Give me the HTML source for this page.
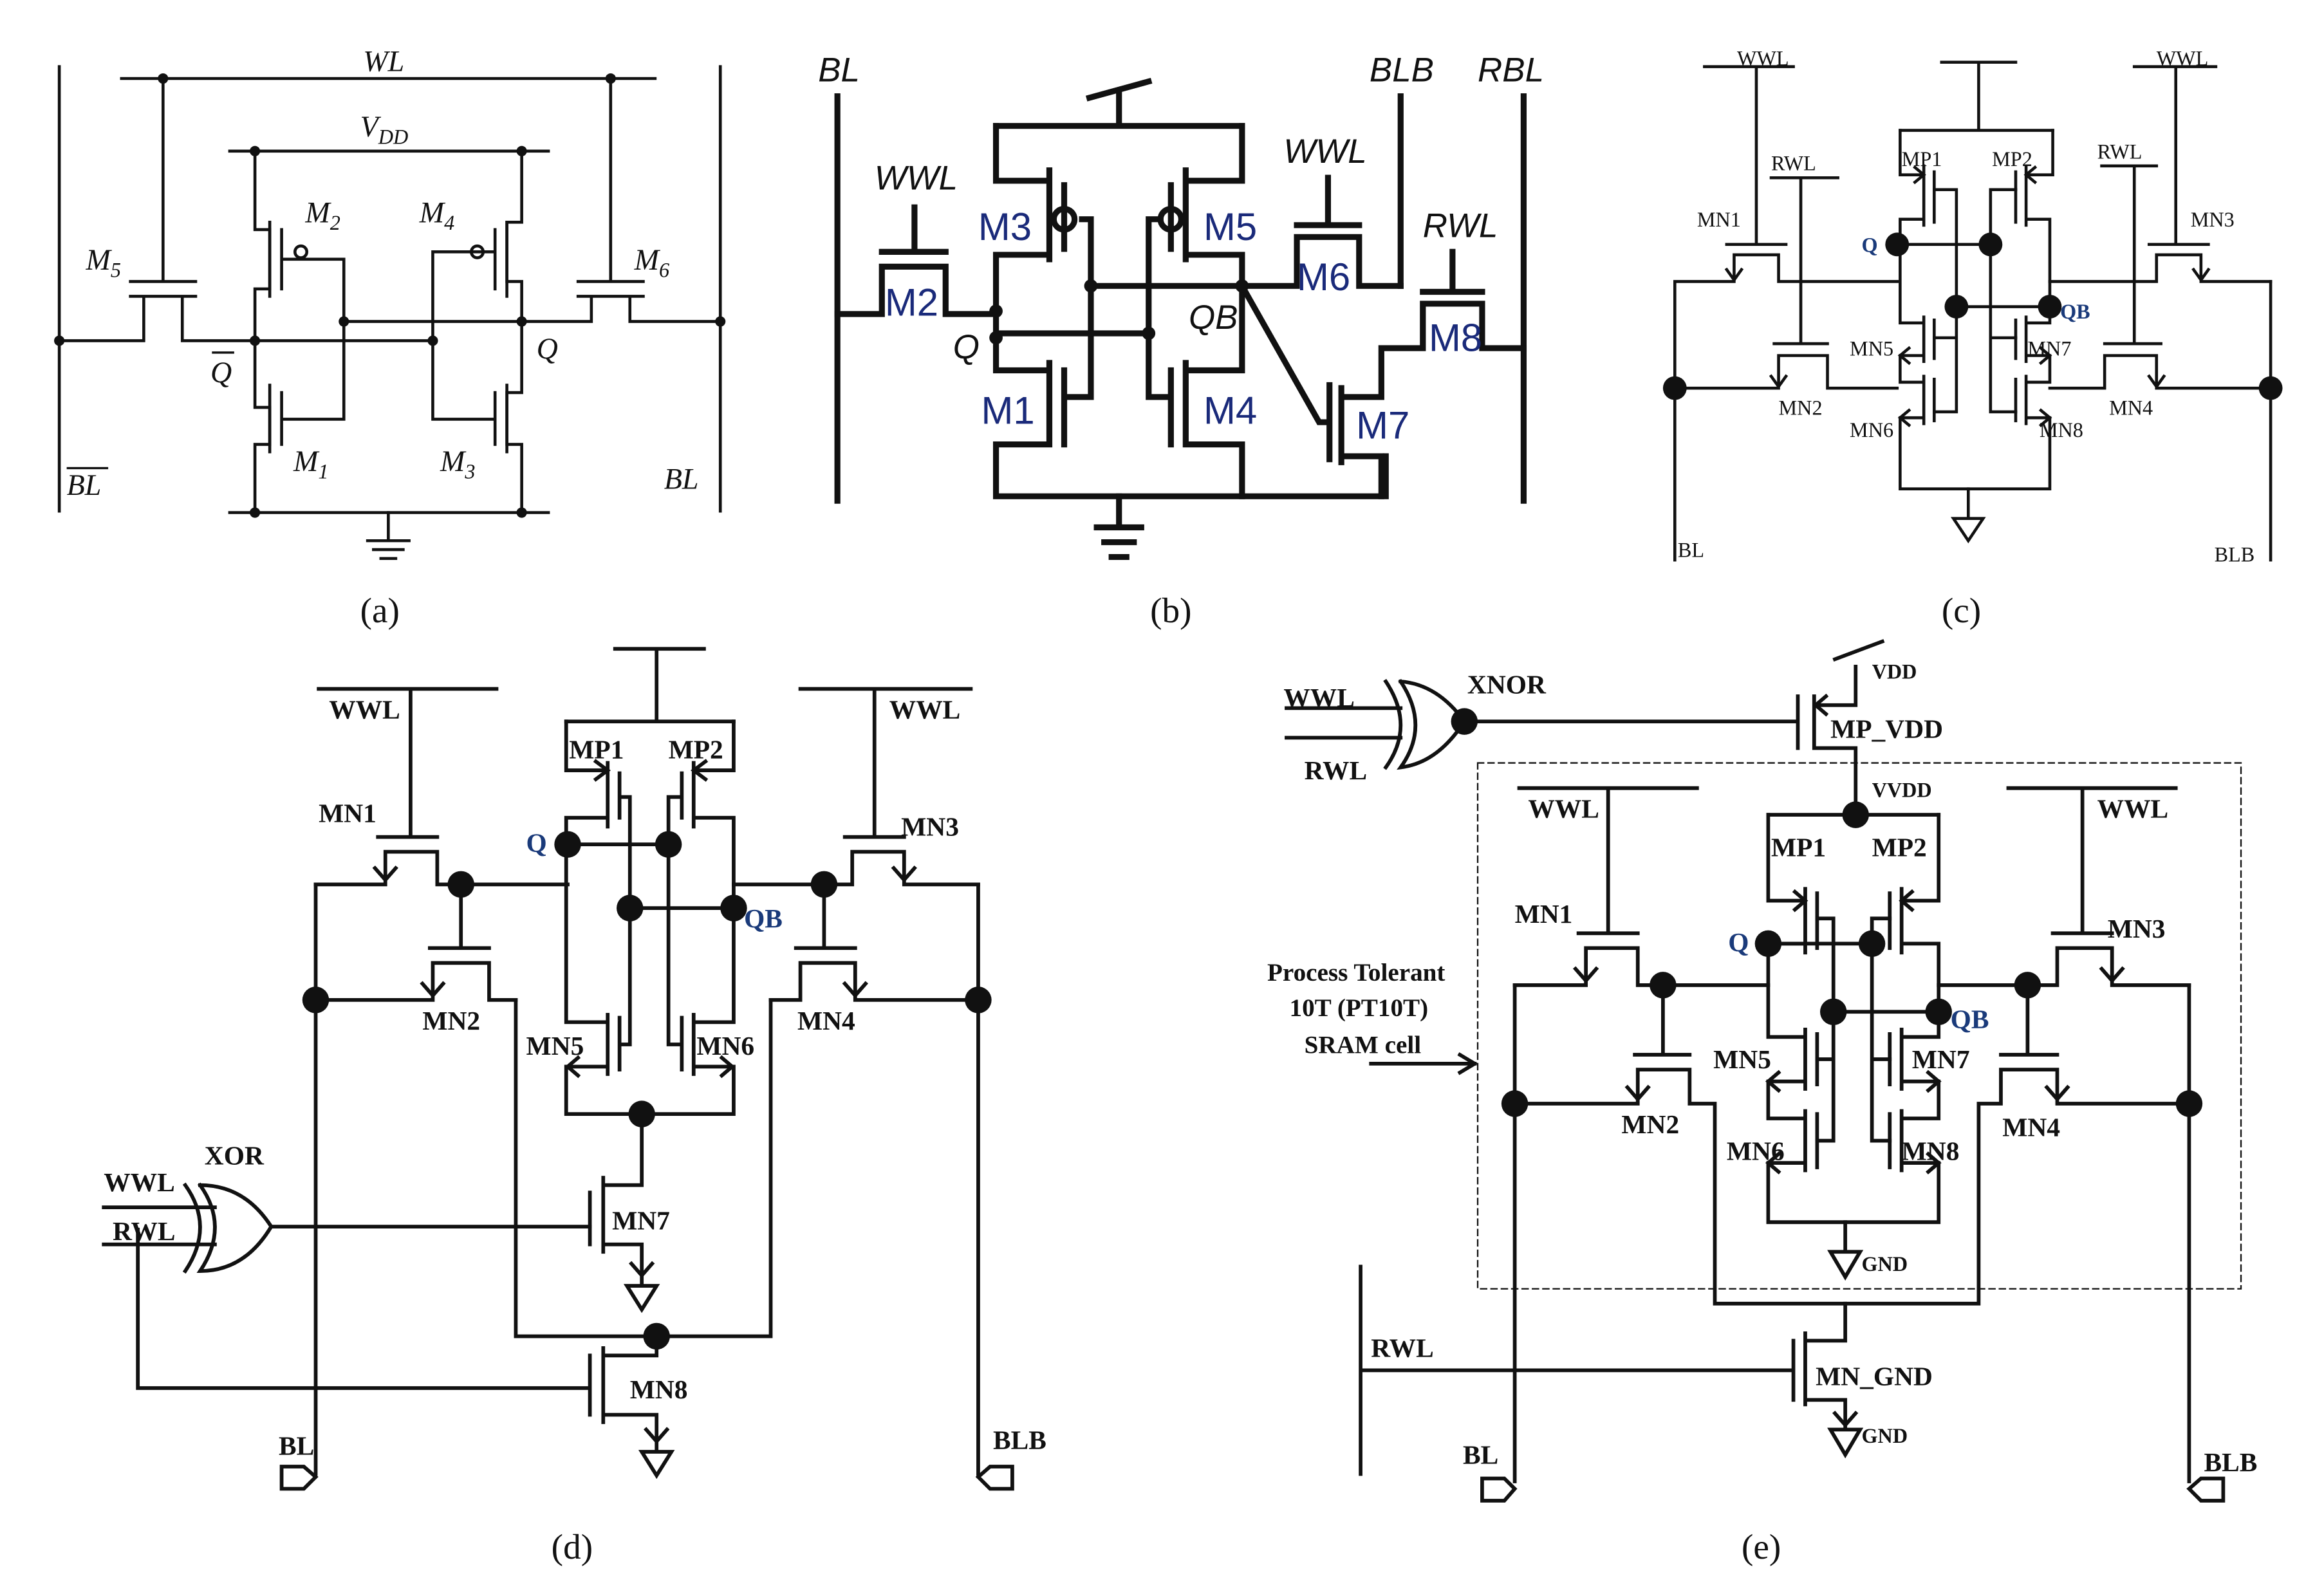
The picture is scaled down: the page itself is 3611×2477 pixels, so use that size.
<!DOCTYPE html>
<html><head><meta charset="utf-8"><style>html,body{margin:0;padding:0;background:#fff}svg{display:block}</style></head><body>
<svg width="3611" height="2477" viewBox="0 0 1568 1076" preserveAspectRatio="none" xmlns="http://www.w3.org/2000/svg">
<rect width="1568" height="1076" fill="#fff"/>
<g fill="none" stroke="#111" stroke-linecap="square">
<!-- (a) -->
<g stroke-width="2">
<path d="M40 45V345M486 45V345M82 53H442M155 102H370M155 346H370"/>
<path d="M110 53V190M88 190H132M88 200H132M40 230H97V200M123 200V230H172"/>
<path d="M412 53V190M390 190H434M390 200H434M486 217H425V200M399 200V217H352"/>
<path d="M172 102V155H182V195H172V230V275H182V300H172V346"/>
<path d="M182 150V200M182 260V305M190 155V195M190 265V300M190 175H232V230M190 283H232V230"/>
<path d="M352 102V150H342V190H352V217V265H342V300H352V346"/>
<path d="M342 150V200M342 260V305M334 155V195M334 265V300M334 170H292V230M334 283H292V230M172 230H292M232 217H352"/>
<circle cx="203" cy="170" r="4"/><circle cx="322" cy="170" r="4"/>
<path d="M262 346V365M248 365H276M252 371H272M257 377H267"/>
</g>
<g fill="#111" stroke="none"><circle cx="110" cy="53" r="3.5"/><circle cx="412" cy="53" r="3.5"/><circle cx="172" cy="102" r="3.5"/><circle cx="352" cy="102" r="3.5"/><circle cx="40" cy="230" r="3.5"/><circle cx="486" cy="217" r="3.5"/><circle cx="172" cy="230" r="3.5"/><circle cx="232" cy="217" r="3.5"/><circle cx="292" cy="230" r="3.5"/><circle cx="352" cy="217" r="3.5"/><circle cx="172" cy="346" r="3.5"/><circle cx="352" cy="346" r="3.5"/></g>
<!-- (b) -->
<g stroke-width="4">
<path d="M565 65V338M945 65V193M1028 65V338"/>
<path d="M735 66L775 55M755 62V85M672 85H838"/>
<path d="M672 85V122H708M708 115V175M708 172H672V250H708M708 245V300M708 300H672V335H935V308"/>
<path d="M718 125V168M730 148H736V268H718M718 250V300"/>
<circle cx="718" cy="148" r="7"/>
<path d="M838 85V122H800M800 115V175M800 172H838V250H800M800 245V300M800 300H838V335"/>
<path d="M790 125V168M783 148H775V268H790M790 250V300"/>
<circle cx="790" cy="148" r="7"/>
<path d="M672 225H775M736 193H838"/>
<path d="M565 212H595V180H638V212H672M595 170H638M617 140V170"/>
<path d="M838 193H875V160H917V193H945M875 152H917M896 120V152"/>
<path d="M838 193L890 285H897M897 260V310M905 262V312M905 268H932V235H960V205H1000V235H1028M960 197H1000M980 170V197M905 308H932V335"/>
<path d="M755 335V355M740 356H770M745 366H765M750 376H760"/>
</g>
<g fill="#111" stroke="none"><circle cx="672" cy="210" r="4.5"/><circle cx="672" cy="228" r="4.5"/><circle cx="736" cy="193" r="4.5"/><circle cx="775" cy="225" r="4.5"/><circle cx="838" cy="193" r="4.5"/></g>
<!-- (c) -->
<g stroke-width="2">
<path d="M1130 190V378M1532 190V378M1150 45H1210M1185 45V165M1165 165H1205M1170 172H1200M1130 190H1170V172M1200 172V190H1280"/>
<path d="M1195 120H1240M1215 120V232M1197 232H1233M1130 262H1200V240H1233V262H1280"/>
<path d="M1440 45H1495M1468 45V165M1450 165H1490M1455 172H1485M1532 190H1485V172M1455 172V190H1383"/>
<path d="M1418 112H1455M1440 112V232M1420 232H1458M1532 262H1455V240H1420V262H1383"/>
<path d="M1310 42H1360M1335 42V88M1282 88H1385"/>
<path d="M1282 88V118H1298M1298 112V152M1298 148H1282V218H1298M1298 214V244M1298 240H1282V258H1298M1298 254V286M1298 282H1282V330H1383V282H1367M1367 254V286M1367 258H1383V240H1367M1367 214V244M1367 218H1383V148H1367M1367 112V152M1367 118H1385V88"/>
<path d="M1305 116V150M1305 216V242M1305 256V284M1360 116V150M1360 216V242M1360 256V284"/>
<path d="M1305 128H1320V278H1305M1305 228H1320M1360 128H1343V278H1360M1360 228H1343M1280 165H1343M1320 207H1383"/>
<path d="M1328 330V350M1318 350H1338L1328 365Z"/>
<path d="M1165 182L1170 189L1175 182M1195 254L1200 261L1205 254M1480 182L1485 189L1490 182M1450 254L1455 261L1460 254M1292 113L1298 118L1292 123M1373 113L1367 118L1373 123M1288 235L1282 240L1288 245M1288 277L1282 282L1288 287M1377 235L1383 240L1377 245M1377 277L1383 282L1377 287"/>
</g>
<g fill="#111" stroke="none"><circle cx="1280" cy="165" r="8"/><circle cx="1343" cy="165" r="8"/><circle cx="1320" cy="207" r="8"/><circle cx="1383" cy="207" r="8"/><circle cx="1130" cy="262" r="8"/><circle cx="1532" cy="262" r="8"/></g>
<!-- (d) -->
<g stroke-width="2.5">
<path d="M415 438H475M443 438V487M382 487H495"/>
<path d="M382 487V520H410M410 515V558M410 552H382V690H410M410 685V725M410 720H382V752H495V720H468M468 685V725M468 690H495V552H468M468 515V558M468 520H495V487"/>
<path d="M418 522V552M418 687V722M460 522V552M460 687V722M418 538H425V705H418M460 538H451V705H460M383 570H451M425 613H495"/>
<path d="M433 752V800H407M407 795V845M398 805V840M407 840H433V868M423 868H443L433 884Z"/>
<path d="M183 828H398M93 830V937H398M407 910V960M398 915V955M407 915H443V902M407 955H443V980M433 980H453L443 996Z"/>
<path d="M348 902H520M348 675V902M520 675V902"/>
<path d="M215 465H335M277 465V565M255 565H295M260 575H295M213 597H260V575M295 575V597H383M311 597V640M290 640H330M292 650H330M213 675H292V650M330 650V675H348"/>
<path d="M540 465H655M590 465V565M570 565H610M575 575H610M495 597H575V575M610 575V597H660M556 597V640M537 640H577M540 650H577M660 675H577V650M540 650V675H520"/>
<path d="M213 597V995M660 597V995M190 990H205L213 997L205 1005H190ZM683 990H668L660 997L668 1005H683Z"/>
<path d="M70 815H145M70 840H145M135 800Q165 800 183 828Q165 858 135 858Q155 828 135 800M125 800Q145 828 125 858"/>
<path d="M253 586L260 594L267 586M285 664L292 672L299 664M603 586L610 594L617 586M570 664L577 672L584 664M402 514L410 520L402 526M476 514L468 520L476 526M390 714L383 720L390 726M487 714L494 720L487 726M426 853L433 861L440 853M436 965L443 973L450 965"/>
</g>
<g fill="#111" stroke="none"><circle cx="383" cy="570" r="9"/><circle cx="451" cy="570" r="9"/><circle cx="425" cy="613" r="9"/><circle cx="495" cy="613" r="9"/><circle cx="311" cy="597" r="9"/><circle cx="556" cy="597" r="9"/><circle cx="213" cy="675" r="9"/><circle cx="660" cy="675" r="9"/><circle cx="433" cy="752" r="9"/><circle cx="443" cy="902" r="9"/></g>
<!-- (e) -->
<g stroke-width="2.5">
<rect x="997" y="515" width="515" height="355" stroke-width="1" stroke-dasharray="4 3"/>
<path d="M868 478H945M868 498H945M945 460Q970 462 988 487Q970 515 945 518Q965 490 945 460M935 460Q955 490 935 518"/>
<path d="M996 487H1213M1213 470V505M1224 470V505M1224 476H1252V450M1238 445L1270 433M1224 505H1252V545M1193 550H1308"/>
<path d="M1193 550V608H1218M1218 600V643M1218 637H1193V700H1218M1218 695V735M1218 730H1193V755H1218M1218 750V790M1218 785H1193V825H1308V785H1283M1283 750V790M1283 755H1308V730H1283M1283 695V735M1283 700H1308V637H1283M1283 600V643M1283 608H1308V550"/>
<path d="M1226 603V640M1226 698V732M1226 752V788M1275 603V640M1275 698V732M1275 752V788"/>
<path d="M1226 620H1237V770H1226M1226 715H1237M1275 620H1263V770H1275M1275 715H1263M1193 637H1263M1237 683H1308"/>
<path d="M1245 825V845M1235 845H1255L1245 862Z"/>
<path d="M1025 532H1145M1085 532V630M1065 630H1105M1070 640H1105M1022 665H1070V640M1105 640V665H1193M1122 665V712M1103 712H1140M1105 722H1140M1022 745H1105V722M1140 722V745H1157V880H1335V745H1350V722H1388V745H1477"/>
<path d="M1355 532H1468M1405 532V630M1385 630H1425M1388 640H1425M1308 665H1388V640M1425 640V665H1477M1368 665V712M1350 712H1388"/>
<path d="M1245 880V905H1218M1218 900V948M1210 905V945M918 855V995M918 925H1210M1218 945H1245V965M1235 965H1255L1245 982Z"/>
<path d="M1022 665V1000M1477 665V1000M1000 998H1015L1022 1005L1015 1013H1000ZM1500 998H1485L1477 1005L1485 1013H1500Z"/>
<path d="M925 718H995M985 712L995 718L985 724"/>
<path d="M1063 654L1070 662L1077 654M1098 734L1105 742L1112 734M1418 654L1425 662L1432 654M1381 734L1388 742L1395 734M1211 602L1218 608L1211 614M1290 602L1283 608L1290 614M1200 724L1193 730L1200 736M1200 779L1193 785L1200 791M1301 724L1308 730L1301 736M1301 779L1308 785L1301 791M1232 470L1225 476L1232 482M1238 954L1245 962L1252 954"/>
</g>
<g fill="#111" stroke="none"><circle cx="988" cy="487" r="9"/><circle cx="1252" cy="550" r="9"/><circle cx="1193" cy="637" r="9"/><circle cx="1263" cy="637" r="9"/><circle cx="1237" cy="683" r="9"/><circle cx="1308" cy="683" r="9"/><circle cx="1122" cy="665" r="9"/><circle cx="1368" cy="665" r="9"/><circle cx="1022" cy="745" r="9"/><circle cx="1477" cy="745" r="9"/></g>
</g>
<g font-family="Liberation Serif, serif" fill="#111">
<g font-style="italic" font-size="20">
<text x="245" y="48">WL</text><text x="243" y="92">V<tspan font-size="14" dy="5">DD</tspan></text>
<text x="58" y="182">M<tspan font-size="14" dy="5">5</tspan></text><text x="206" y="150">M<tspan font-size="14" dy="5">2</tspan></text>
<text x="283" y="150">M<tspan font-size="14" dy="5">4</tspan></text><text x="428" y="182">M<tspan font-size="14" dy="5">6</tspan></text>
<text x="198" y="318">M<tspan font-size="14" dy="5">1</tspan></text><text x="297" y="318">M<tspan font-size="14" dy="5">3</tspan></text>
<text x="142" y="258">Q</text><text x="362" y="242">Q</text><text x="45" y="334">BL</text><text x="448" y="330">BL</text>
</g>
<path d="M143 238H158M45 316H73" stroke="#111" stroke-width="1.5"/>
<g font-size="24"><text x="243" y="420">(a)</text><text x="776" y="420">(b)</text><text x="1310" y="420">(c)</text><text x="372" y="1052">(d)</text><text x="1175" y="1052">(e)</text></g>
</g>
<g font-family="Liberation Sans, sans-serif" font-style="italic" font-size="23" fill="#111">
<text x="552" y="55">BL</text><text x="924" y="55">BLB</text><text x="997" y="55">RBL</text>
<text x="590" y="128">WWL</text><text x="866" y="110">WWL</text><text x="960" y="160">RWL</text>
<text x="643" y="242">Q</text><text x="802" y="222">QB</text>
</g>
<g font-family="Liberation Sans, sans-serif" font-size="26" fill="#1a2a7a">
<text x="660" y="162">M3</text><text x="812" y="162">M5</text><text x="597" y="213">M2</text><text x="662" y="286">M1</text><text x="812" y="286">M4</text><text x="875" y="196">M6</text><text x="964" y="237">M8</text><text x="915" y="296">M7</text>
</g>
<g font-family="Liberation Serif, serif" font-size="14" fill="#111">
<text x="1172" y="44">WWL</text><text x="1455" y="44">WWL</text><text x="1195" y="115">RWL</text><text x="1415" y="107">RWL</text>
<text x="1145" y="153">MN1</text><text x="1478" y="153">MN3</text><text x="1283" y="112">MP1</text><text x="1344" y="112">MP2</text>
<text x="1248" y="240">MN5</text><text x="1368" y="240">MN7</text><text x="1200" y="280">MN2</text><text x="1423" y="280">MN4</text>
<text x="1248" y="295">MN6</text><text x="1376" y="295">MN8</text><text x="1132" y="376">BL</text><text x="1494" y="379">BLB</text>
</g>
<g font-family="Liberation Serif, serif" font-size="14" font-weight="bold" fill="#1a3a7a"><text x="1256" y="170">Q</text><text x="1390" y="215">QB</text></g>
<g font-family="Liberation Serif, serif" font-size="18" font-weight="bold" fill="#111">
<text x="222" y="485">WWL</text><text x="600" y="485">WWL</text><text x="215" y="555">MN1</text><text x="608" y="564">MN3</text>
<text x="384" y="512">MP1</text><text x="451" y="512">MP2</text><text x="285" y="695">MN2</text><text x="538" y="695">MN4</text>
<text x="355" y="712">MN5</text><text x="470" y="712">MN6</text><text x="138" y="786">XOR</text><text x="70" y="804">WWL</text><text x="76" y="837">RWL</text>
<text x="413" y="830">MN7</text><text x="425" y="944">MN8</text><text x="188" y="982">BL</text><text x="670" y="978">BLB</text>
<text x="990" y="468">XNOR</text><text x="866" y="477">WWL</text><text x="880" y="526">RWL</text>
<text x="1235" y="498">MP_VDD</text><text x="1031" y="552">WWL</text><text x="1415" y="552">WWL</text>
<text x="1195" y="578">MP1</text><text x="1263" y="578">MP2</text><text x="1022" y="623">MN1</text><text x="1422" y="633">MN3</text>
<text x="1156" y="721">MN5</text><text x="1290" y="721">MN7</text><text x="1094" y="765">MN2</text><text x="1351" y="767">MN4</text>
<text x="1165" y="783">MN6</text><text x="1283" y="783">MN8</text><text x="1225" y="935">MN_GND</text><text x="925" y="916">RWL</text>
<text x="987" y="988">BL</text><text x="1487" y="993">BLB</text>
<text x="855" y="662" font-size="17">Process Tolerant</text><text x="870" y="686" font-size="17">10T (PT10T)</text><text x="880" y="711" font-size="17">SRAM cell</text>
</g>
<g font-family="Liberation Serif, serif" font-size="14" font-weight="bold" fill="#111">
<text x="1263" y="458">VDD</text><text x="1263" y="538">VVDD</text><text x="1256" y="858">GND</text><text x="1256" y="974">GND</text>
</g>
<g font-family="Liberation Serif, serif" font-size="18" font-weight="bold" fill="#1a3a7a"><text x="355" y="575">Q</text><text x="502" y="626">QB</text><text x="1166" y="642">Q</text><text x="1316" y="694">QB</text></g>
</svg>
</body></html>
